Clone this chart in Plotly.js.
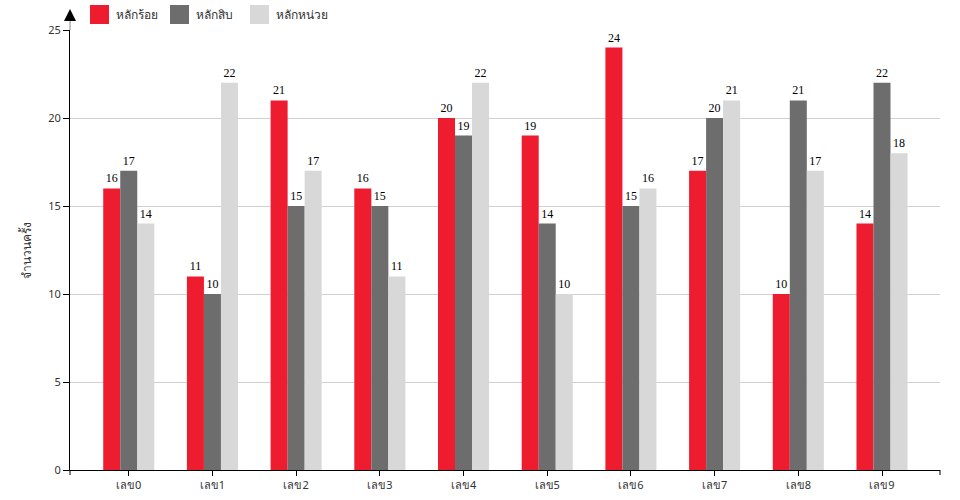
<!DOCTYPE html>
<html>
<head>
<meta charset="utf-8">
<script src="https://cdn.plot.ly/plotly-3.0.1.min.js"></script>
<style>html,body{margin:0;padding:0;background:#fff;}#chart{width:960px;height:500px;}</style>
</head>
<body>
<div id="chart"></div>
<script>
const categories = ['เลข0','เลข1','เลข2','เลข3','เลข4','เลข5','เลข6','เลข7','เลข8','เลข9'];
const seriesNames = ['หลักร้อย','หลักสิบ','หลักหน่วย'];
const hundreds = [16, 11, 21, 16, 20, 19, 24, 17, 10, 14];
const tens =     [17, 10, 15, 15, 19, 14, 15, 20, 21, 22];
const units =    [14, 22, 17, 11, 22, 10, 16, 21, 17, 18];
const colors = ['#ED1C2E', '#6D6D6D', '#D8D8D8'];
const yTitle = 'จำนวนครั้ง';

const seriesValues = [hundreds, tens, units];
const labelFont = {family: 'Liberation Serif, Times New Roman, serif', size: 12, color: '#000000'};
const traces = seriesValues.map((vals, i) => ({
  type: 'bar',
  name: seriesNames[i],
  x: categories,
  y: vals,
  marker: {color: colors[i], line: {width: 0}},
  text: vals.map(String),
  textposition: 'outside',
  textfont: labelFont,
  outsidetextfont: labelFont,
  cliponaxis: false,
  hoverinfo: 'none',
  showlegend: false
}));

const legendX = [90, 170, 250];
const shapes = [];
const annotations = [];
seriesNames.forEach((n, i) => {
  shapes.push({type: 'rect', xref: 'paper', yref: 'paper', layer: 'above',
    x0: (legendX[i] - 70) / 870, x1: (legendX[i] + 19 - 70) / 870,
    y0: (470 - 5) / 440, y1: (470 - 24) / 440,
    fillcolor: colors[i], line: {width: 0}});
  annotations.push({xref: 'paper', yref: 'paper', x: (legendX[i] + 24 - 70) / 870,
    y: (470 - 15) / 440, xanchor: 'left', yanchor: 'middle', showarrow: false,
    text: n, font: {family: 'Noto Sans, DejaVu Sans, sans-serif', size: 12, color: '#333'}});
});
// axis arrow extension and arrowhead
shapes.push({type: 'line', xref: 'paper', yref: 'paper', x0: 0, x1: 0,
  y0: 1, y1: (470 - 20) / 440, line: {color: '#888', width: 1}});
shapes.push({type: 'path', xref: 'paper', yref: 'paper', layer: 'above',
  path: 'M ' + (-6/870) + ' ' + ((470-21)/440) + ' L ' + (6/870) + ' ' + ((470-21)/440) +
        ' L 0 ' + ((470-9)/440) + ' Z',
  fillcolor: '#000', line: {width: 0}});
// end ticks on x axis
[0, 1].forEach(p => shapes.push({type: 'line', xref: 'paper', yref: 'paper',
  x0: p, x1: p, y0: 0, y1: -5/440, line: {color: '#000', width: 1}}));

const layout = {
  width: 960, height: 500,
  margin: {l: 70, r: 20, t: 30, b: 30, pad: 0},
  paper_bgcolor: '#fff', plot_bgcolor: '#fff',
  barmode: 'group', bargap: 0.39, bargroupgap: 0,
  font: {family: 'Noto Sans, DejaVu Sans, sans-serif', size: 11, color: '#333'},
  xaxis: {
    type: 'category', range: [-0.702, 9.693],
    showline: true, linecolor: '#000', linewidth: 1,
    ticks: 'outside', ticklen: 5, tickcolor: '#000',
    showgrid: false, zeroline: false,
    tickfont: {size: 11, color: '#333'}
  },
  yaxis: {
    range: [0, 25], tickvals: [0, 5, 10, 15, 20, 25],
    showline: true, linecolor: '#000', linewidth: 1,
    ticks: 'outside', ticklen: 6, tickcolor: '#000',
    showgrid: true, gridcolor: '#d0d0d0', gridwidth: 1, zeroline: false,
    tickfont: {size: 11, color: '#333'},
    title: {text: yTitle, font: {size: 12, color: '#333'}, standoff: 14}
  },
  shapes: shapes,
  annotations: annotations,
  showlegend: false
};

Plotly.newPlot('chart', traces, layout, {displayModeBar: false, staticPlot: true});
</script>
</body>
</html>
